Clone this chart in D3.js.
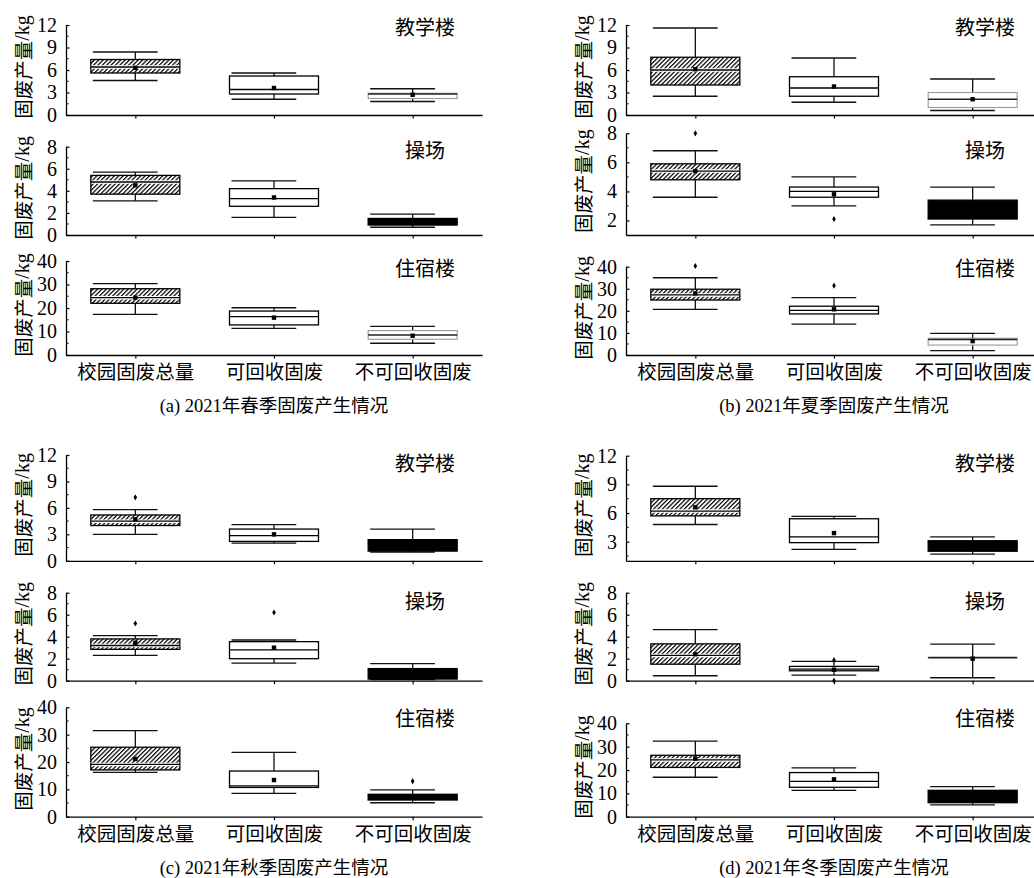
<!DOCTYPE html>
<html><head><meta charset="utf-8">
<script src="https://cdn.jsdelivr.net/npm/d3@7"></script>
<style>body{margin:0;background:#fff} svg{display:block}</style>
</head><body><svg id="c" width="1034" height="878"></svg>
<script>
// ---------------- DATA ----------------
const categories = ["校园固废总量", "可回收固废", "不可回收固废"];
const sites = ["教学楼", "操场", "住宿楼"];
const captionPrefix = ["(a) 2021", "(b) 2021", "(c) 2021", "(d) 2021"];
const captionText = ["年春季固废产生情况", "年夏季固废产生情况", "年秋季固废产生情况", "年冬季固废产生情况"];
const yLabelCJK = "固废产量";
const yLabelUnit = "/kg";

// each entry: [whiskerLow, q1, median, q3, whiskerHigh, mean]
const springTeach = [[4.6, 5.6, 6.4, 7.4, 8.4, 6.3], [2.1, 2.8, 3.4, 5.2, 5.6, 3.6], [1.8, 2.2, 2.8, 2.9, 3.5, 2.7]];
const springField = [[3.1, 3.7, 4.8, 5.4, 5.7, 4.5], [1.6, 2.6, 3.3, 4.2, 4.9, 3.4], [0.7, 0.9, 1.2, 1.5, 1.9, 1.2]];
const springDorm  = [[17.3, 22.0, 24.4, 28.2, 30.4, 24.4], [11.3, 12.8, 16.3, 18.7, 20.1, 15.9], [5.0, 6.7, 8.5, 10.4, 12.2, 8.2]];

const summerTeach = [[2.5, 4.0, 6.0, 7.7, 11.6, 6.1], [1.7, 2.5, 3.6, 5.1, 7.6, 3.8], [0.6, 1.0, 2.1, 3.0, 4.8, 2.1]];
const summerField = [[3.6, 4.8, 5.4, 5.9, 6.8, 5.4], [3.0, 3.6, 4.0, 4.3, 5.0, 3.8], [1.7, 2.1, 2.7, 3.4, 4.3, 2.7]];
const summerDorm  = [[20.7, 24.9, 27.2, 29.8, 35.0, 27.9], [14.0, 18.6, 20.2, 22.1, 26.0, 20.7], [2.0, 4.5, 7.0, 7.6, 9.8, 6.3]];

const autumnTeach = [[3.0, 4.0, 4.5, 5.2, 5.8, 4.7], [2.0, 2.2, 2.85, 3.6, 4.1, 3.0], [1.0, 1.1, 1.7, 2.4, 3.6, 1.7]];
const autumnField = [[2.3, 2.85, 3.2, 3.8, 4.1, 3.45], [1.6, 2.0, 2.8, 3.55, 3.7, 3.0], [0.1, 0.15, 0.6, 1.1, 1.55, 0.67]];
const autumnDorm  = [[16.2, 17.1, 19.1, 25.4, 31.5, 21.1], [8.5, 10.7, 11.3, 16.7, 23.5, 13.4], [5.1, 6.1, 7.2, 8.2, 9.8, 7.3]];

const winterTeach = [[4.8, 5.7, 6.2, 7.5, 8.8, 6.6], [2.2, 2.9, 3.5, 5.4, 5.65, 3.9], [1.7, 2.0, 2.5, 3.1, 3.5, 2.55]];
const winterField = [[0.45, 1.5, 2.3, 3.35, 4.65, 2.4], [0.5, 0.9, 1.05, 1.3, 1.75, 1.0], [0.27, 2.1, 2.1, 2.1, 3.33, 2.0]];
const winterDorm  = [[16.9, 21.1, 24.3, 26.3, 32.4, 24.9], [11.3, 12.6, 15.1, 18.9, 20.9, 16.0], [5.1, 6.0, 8.6, 11.3, 12.9, 8.6]];

// outliers: [row, category, value]
const springOutliers = [];
const summerOutliers = [[1, 0, 8.0], [1, 1, 2.1], [2, 0, 40.3], [2, 1, 31.4]];
const autumnOutliers = [[0, 0, 7.2], [1, 0, 5.2], [1, 1, 6.2], [2, 2, 13.0]];
const winterOutliers = [[1, 1, 1.88], [1, 1, 0.0]];

// tick labels
const ticks12 = [0, 3, 6, 9, 12];
const ticks12b = [3, 6, 9, 12];
const ticks8 = [0, 2, 4, 6, 8];
const ticks8b = [2, 4, 6, 8];
const ticks40 = [0, 10, 20, 30, 40];

// ---------------- LAYOUT / STYLE ----------------
const LATIN = "'Liberation Serif','Times New Roman',serif";
const CJK = "'Noto Sans CJK SC','Noto Sans CJK JP',sans-serif";
const axisLen = 416, boxW = 89;
const panels = [
  {x0: 66, data: [springTeach, springField, springDorm], out: springOutliers, third: ["light", "black", "light"],
   rows: [{top: 25, bot: 115, dom: [0, 12], ticks: ticks12, ann: 35},
          {top: 146.7, bot: 235, dom: [0, 8], ticks: ticks8, ann: 158},
          {top: 261, bot: 355, dom: [0, 40], ticks: ticks40, ann: 276}]},
  {x0: 626, data: [summerTeach, summerField, summerDorm], out: summerOutliers, third: ["light", "black", "light"],
   rows: [{top: 25, bot: 115, dom: [0, 12], ticks: ticks12, ann: 35},
          {top: 133.3, bot: 235, dom: [1, 8], ticks: ticks8b, ann: 158},
          {top: 266.7, bot: 355, dom: [0, 40], ticks: ticks40, ann: 276}]},
  {x0: 66, data: [autumnTeach, autumnField, autumnDorm], out: autumnOutliers, third: ["black", "black", "black"],
   rows: [{top: 455, bot: 560.8, dom: [0, 12], ticks: ticks12, ann: 471},
          {top: 592.7, bot: 680.7, dom: [0, 8], ticks: ticks8, ann: 609},
          {top: 707.3, bot: 816.7, dom: [0, 40], ticks: ticks40, ann: 726}]},
  {x0: 626, data: [winterTeach, winterField, winterDorm], out: winterOutliers, third: ["black", "light", "black"],
   rows: [{top: 455.7, bot: 560.8, dom: [1, 12], ticks: ticks12b, ann: 471},
          {top: 592.7, bot: 680.7, dom: [0, 8], ticks: ticks8, ann: 609},
          {top: 723.3, bot: 816.7, dom: [0, 40], ticks: ticks40, ann: 726}]}
];

// ---------------- DRAW ----------------
const svg = d3.select("#c");
svg.append("rect").attr("width", 1034).attr("height", 878).attr("fill", "#fff");
const defs = svg.append("defs");
const pat = defs.append("pattern").attr("id", "hatch").attr("patternUnits", "userSpaceOnUse")
  .attr("width", 3.1).attr("height", 3.1).attr("patternTransform", "rotate(45)");
pat.append("rect").attr("width", 3.1).attr("height", 3.1).attr("fill", "#fff");
pat.append("line").attr("x1", 0.6).attr("y1", 0).attr("x2", 0.6).attr("y2", 3.1)
  .attr("stroke", "#000").attr("stroke-width", 1.25);

panels.forEach((p, pi) => {
  const x = d3.scalePoint().domain(categories).range([p.x0, p.x0 + axisLen]).padding(0.5);
  p.rows.forEach((r, ri) => {
    const y = d3.scaleLinear().domain(r.dom).range([r.bot, r.top]);
    const g = svg.append("g");
    // y axis (ticks inward)
    const step = r.ticks[1] - r.ticks[0];
    const minor = d3.range(r.ticks[0] - step / 2, r.dom[1] + 1e-9, step / 2)
      .filter(v => v > r.dom[0] + 1e-9 && !r.ticks.some(t => Math.abs(t - v) < 1e-9));
    const yAxis = d3.axisLeft(y).tickValues(r.ticks).tickFormat(d3.format("d"))
      .tickSize(-3.5).tickPadding(9).tickSizeOuter(0);
    const ga = g.append("g").attr("transform", `translate(${p.x0},0)`).call(yAxis);
    ga.select(".domain").attr("stroke", "#000").attr("stroke-width", 1.3);
    ga.selectAll(".tick line").attr("stroke", "#000").attr("stroke-width", 1.2);
    ga.selectAll(".tick text").attr("font-family", LATIN).attr("font-size", 20).attr("fill", "#000");
    g.selectAll(".minor").data(minor).join("line")
      .attr("x1", p.x0).attr("x2", p.x0 + 2.5).attr("y1", d => y(d)).attr("y2", d => y(d))
      .attr("stroke", "#000").attr("stroke-width", 1.1);
    // x axis
    const xAxis = d3.axisBottom(x).tickSize(3.5).tickSizeOuter(0).tickFormat(ri === 2 ? (d => d) : () => "");
    const gx = g.append("g").attr("transform", `translate(0,${r.bot})`).call(xAxis);
    gx.select(".domain").attr("stroke", "#000").attr("stroke-width", 1.3);
    gx.selectAll(".tick line").attr("stroke", "#000").attr("stroke-width", 1.2);
    gx.selectAll(".tick text").attr("font-family", CJK).attr("font-size", 19.5).attr("fill", "#000")
      .attr("dy", null).attr("y", 24);
    // y label
    const yl = g.append("text").attr("transform", `translate(${p.x0 - 44},${(r.top + r.bot) / 2 - 3}) rotate(-90)`)
      .attr("text-anchor", "middle").attr("dominant-baseline", "central").attr("font-size", 19.5).attr("fill", "#000");
    yl.append("tspan").attr("font-family", CJK).text(yLabelCJK);
    yl.append("tspan").attr("font-family", LATIN).attr("font-size", 20).text(yLabelUnit);
    // annotation
    g.append("text").attr("x", p.x0 + 359).attr("y", r.ann).attr("text-anchor", "middle")
      .attr("font-family", CJK).attr("font-size", 20).text(sites[ri]);
    // boxes
    const stats = p.data[ri];
    stats.forEach((s, ci) => {
      const [lo, q1, md, q3, hi, mean] = s;
      const cx = x(categories[ci]), left = cx - boxW / 2;
      const style = ci === 0 ? "hatch" : ci === 1 ? "white" : p.third[ri];
      const bg = g.append("g");
      const wc = "#111";
      bg.append("line").attr("x1", cx).attr("x2", cx).attr("y1", y(hi)).attr("y2", y(q3)).attr("stroke", wc).attr("stroke-width", 1.3);
      bg.append("line").attr("x1", cx).attr("x2", cx).attr("y1", y(q1)).attr("y2", y(lo)).attr("stroke", wc).attr("stroke-width", 1.3);
      [hi, lo].forEach(v => bg.append("line").attr("x1", left + 2).attr("x2", cx + boxW / 4)
        .attr("y1", y(v)).attr("y2", y(v)).attr("stroke", wc).attr("stroke-width", 1.3));
      const fill = style === "hatch" ? "url(#hatch)" : style === "black" ? "#000" : "#fff";
      const stroke = style === "light" ? "#9a9a9a" : "#000";
      bg.append("rect").attr("x", left).attr("width", boxW).attr("y", y(q3)).attr("height", Math.max(0.01, y(q1) - y(q3)))
        .attr("fill", fill).attr("stroke", stroke).attr("stroke-width", style === "light" ? 1.1 : 1.3);
      if (style === "hatch") {
        bg.append("line").attr("x1", left + 0.7).attr("x2", left + boxW - 0.7).attr("y1", y(md)).attr("y2", y(md))
          .attr("stroke", "#fff").attr("stroke-width", 3.5);
      }
      if (style !== "black") {
        bg.append("line").attr("x1", left).attr("x2", left + boxW).attr("y1", y(md)).attr("y2", y(md))
          .attr("stroke", style === "light" ? "#222" : "#000").attr("stroke-width", style === "light" ? 1.6 : 1.3);
      }
      bg.append("rect").attr("x", cx - 2.2).attr("y", y(mean) - 2.2).attr("width", 4.4).attr("height", 4.4).attr("fill", "#000");
    });
    p.out.filter(o => o[0] === ri).forEach(o => {
      g.append("path").attr("d", d3.symbol(d3.symbolDiamond, 11)())
        .attr("transform", `translate(${x(categories[o[1]])},${y(o[2])})`).attr("fill", "#000");
    });
  });
  // caption
  const lastBot = p.rows[2].bot;
  const cap = svg.append("text").attr("x", p.x0 + axisLen / 2).attr("y", lastBot + 57).attr("text-anchor", "middle")
    .attr("font-size", 18.5).attr("fill", "#000");
  cap.append("tspan").attr("font-family", LATIN).text(captionPrefix[pi]);
  cap.append("tspan").attr("font-family", CJK).text(captionText[pi]);
});
</script>
</body></html>
